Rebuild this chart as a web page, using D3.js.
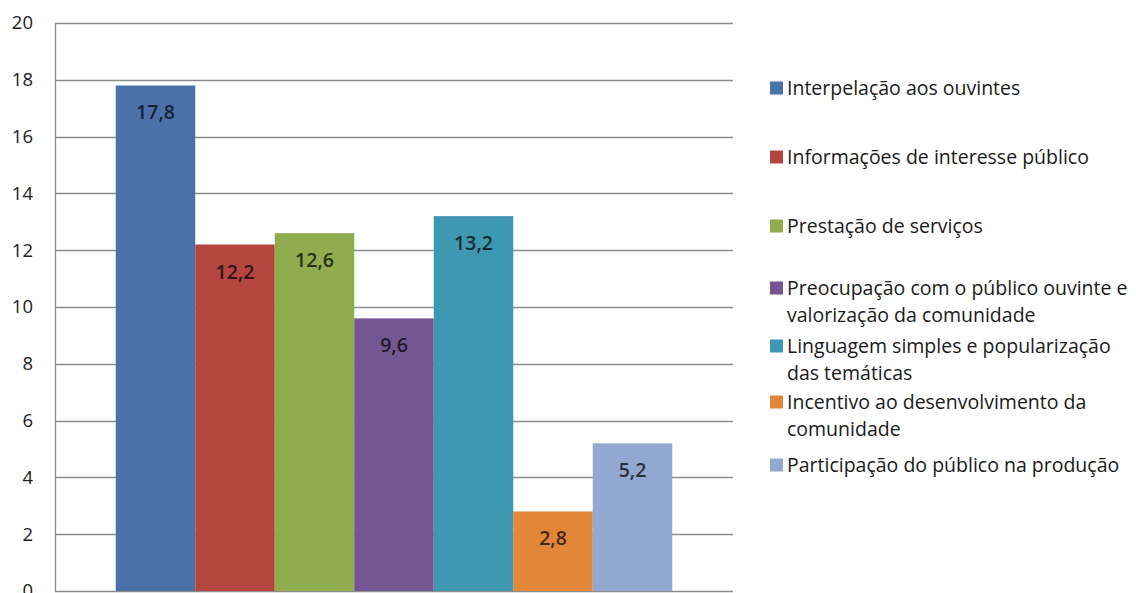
<!DOCTYPE html>
<html><head><meta charset="utf-8">
<script src="https://cdn.jsdelivr.net/npm/d3@7"></script>
<style>
html,body{margin:0;padding:0;background:#fff;}
svg{display:block;}
text{font-family:"Open Sans",Lato,sans-serif;}
</style></head>
<body>
<svg id="chart" width="1136" height="593"></svg>
<script>
const categories = [
  "Interpelação aos ouvintes",
  "Informações de interesse público",
  "Prestação de serviços",
  "Preocupação com o público ouvinte e valorização da comunidade",
  "Linguagem simples e popularização das temáticas",
  "Incentivo ao desenvolvimento da comunidade",
  "Participação do público na produção"
];
const values = [17.8, 12.2, 12.6, 9.6, 13.2, 2.8, 5.2];
const valueLabels = ["17,8", "12,2", "12,6", "9,6", "13,2", "2,8", "5,2"];
const yTicks = [0, 2, 4, 6, 8, 10, 12, 14, 16, 18, 20];
const colors = ["#4A72A9", "#B3463F", "#8FAD4E", "#735792", "#3F98B1", "#E2863A", "#92A8D1"];

const svg = d3.select("#chart");
const plot = {left: 55, right: 733, top: 23, bottom: 591};

const x = d3.scaleBand().domain(categories).range([plot.left, plot.right]).paddingInner(0).paddingOuter(0.764);
const y = d3.scaleLinear().domain([0, 20]).range([plot.bottom, plot.top]);
const color = d3.scaleOrdinal().domain(categories).range(colors);

// gridlines
svg.append("g").selectAll("line").data(yTicks).join("line")
  .attr("x1", plot.left).attr("x2", plot.right)
  .attr("y1", d => Math.round(y(d)) + 0.5).attr("y2", d => Math.round(y(d)) + 0.5)
  .attr("stroke", "#8c8c8c").attr("stroke-width", 1.3);

// axis
const yAxis = d3.axisLeft(y).tickValues(yTicks).tickSize(0).tickPadding(22).tickFormat(d3.format("d"));
const ag = svg.append("g").attr("transform", `translate(${plot.left},0)`).call(yAxis);
ag.select(".domain").attr("stroke", "#8c8c8c").attr("stroke-width", 1.3);
ag.selectAll("text").attr("font-size", 18.5).attr("fill", "#222").attr("font-family", "'Open Sans', sans-serif");

// bars
svg.append("g").selectAll("rect").data(categories).join("rect")
  .attr("x", d => x(d)).attr("width", x.bandwidth())
  .attr("y", (d, i) => y(values[i])).attr("height", (d, i) => y(0) - y(values[i]))
  .attr("fill", d => color(d));

// labels
svg.append("g").selectAll("text").data(categories).join("text")
  .attr("x", d => x(d) + x.bandwidth() / 2)
  .attr("y", (d, i) => y(values[i]) + 34)
  .attr("text-anchor", "middle")
  .attr("font-size", 19.5).attr("font-weight", 600)
  .attr("fill", d => d3.color(color(d)).darker(3.4))
  .text((d, i) => valueLabels[i]);

// legend
const legendLineY = [88, 157, 226, 288, 346, 402, 465];
const lineH = 27.5;
const maxW = 348;
const lg = svg.append("g");
categories.forEach((c, i) => {
  const g = lg.append("g");
  g.append("rect").attr("x", 770).attr("y", legendLineY[i] - 6.5).attr("width", 13).attr("height", 13).attr("fill", color(c));
  const t = g.append("text").attr("x", 787).attr("font-size", 19.5).attr("fill", "#1a1a1a");
  const words = c.split(" ");
  let line = [], lineNo = 0;
  let ts = t.append("tspan").attr("x", 787).attr("y", legendLineY[i]).attr("dy", "0.35em");
  words.forEach(w => {
    line.push(w);
    ts.text(line.join(" "));
    if (ts.node().getComputedTextLength() > maxW && line.length > 1) {
      line.pop();
      ts.text(line.join(" "));
      line = [w];
      lineNo++;
      ts = t.append("tspan").attr("x", 787).attr("y", legendLineY[i] + lineNo * lineH).attr("dy", "0.35em").text(w);
    }
  });
});
</script>
</body></html>
